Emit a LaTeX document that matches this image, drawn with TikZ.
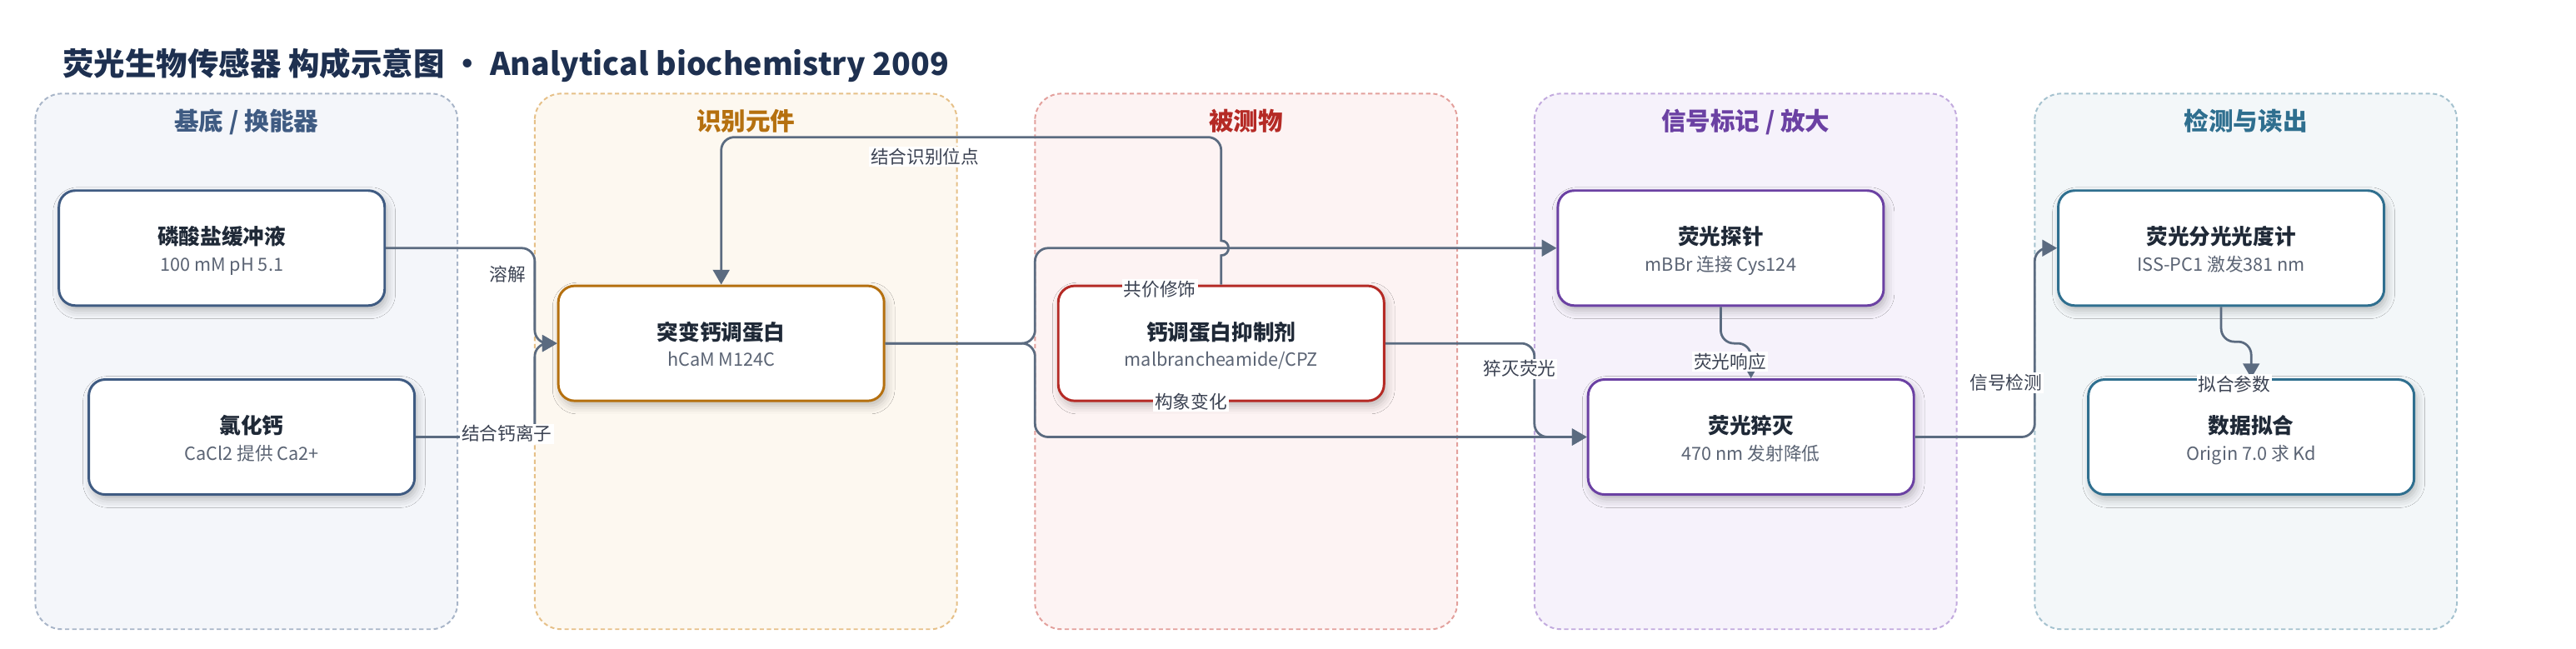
\documentclass[tikz,border=0pt]{standalone}
\usepackage{fontspec}
\setmainfont{Noto Sans CJK SC}
\usetikzlibrary{arrows.meta,shadows.blur}

\definecolor{titlec}{HTML}{1E3050}
\definecolor{edgec}{HTML}{5B6B80}
\definecolor{labc}{HTML}{3B4252}
\definecolor{ttlc}{HTML}{1F2937}
\definecolor{subc}{HTML}{5B6474}
% lanes
\definecolor{laAf}{HTML}{F4F6FA}\definecolor{laAd}{HTML}{A8B5C8}
\definecolor{laBf}{HTML}{FDF8F0}\definecolor{laBd}{HTML}{E6C088}
\definecolor{laCf}{HTML}{FDF3F3}\definecolor{laCd}{HTML}{E3A09C}
\definecolor{laDf}{HTML}{F6F2FB}\definecolor{laDd}{HTML}{C2AADE}
\definecolor{laEf}{HTML}{F3F7F9}\definecolor{laEd}{HTML}{A5C2CF}
% accents
\definecolor{cnavy}{HTML}{3F5B82}
\definecolor{corange}{HTML}{B5700F}
\definecolor{cred}{HTML}{B52A25}
\definecolor{cpurple}{HTML}{6B41A3}
\definecolor{cteal}{HTML}{2F6F8F}

\tikzset{
  lanebox/.style 2 args={fill=#1, draw=#2, line width=1pt, dash pattern=on 2.6pt off 1.8pt, rounded corners=16pt},
  lanetitle/.style={anchor=base, inner sep=0pt, font=\fontsize{15}{17}\selectfont\bfseries, text=#1},
  box/.style={draw=#1, line width=1.5pt, rounded corners=10pt, fill=white,
    minimum width=198.3pt, minimum height=70pt, inner sep=0pt,
    blur shadow={shadow xshift=1.5pt, shadow yshift=-3pt, shadow blur radius=5pt, shadow opacity=25}},
  ttl/.style={anchor=base, inner sep=0pt, text=ttlc, font=\fontsize{13}{15}\selectfont\bfseries},
  sub/.style={anchor=base, inner sep=0pt, text=subc, font=\fontsize{11}{13}\selectfont},
  edge/.style={draw=edgec, line width=1.4pt, rounded corners=8pt, -{Triangle[length=9pt,width=10pt]}},
  elab/.style={fill=white, inner sep=1pt, text=labc, font=\fontsize{11}{13}\selectfont},
}

\newcommand\mybox[6]{%
  \node[box=#4] (#1) at (#2,#3) {};
  \node[ttl] (#1t) at (#2,#3-2) {#5};
  \node[sub] (#1s) at (#2,#3+14) {#6};
}

\begin{document}
\begin{tikzpicture}[x=1pt,y=-1pt]
\useasboundingbox[fill=white] (0,0) rectangle (1568,395);

% title
\node[anchor=base west, inner sep=0pt, text=titlec, font=\fontsize{19}{22}\selectfont\bfseries] (title) at (38,46) {荧光生物传感器 构成示意图 · Analytical biochemistry 2009};

% lanes
\path[lanebox={laAf}{laAd}] (21.5,57) rectangle (278.5,383);
\path[lanebox={laBf}{laBd}] (325.5,57) rectangle (582.5,383);
\path[lanebox={laCf}{laCd}] (630,57) rectangle (887,383);
\path[lanebox={laDf}{laDd}] (934,57) rectangle (1191,383);
\path[lanebox={laEf}{laEd}] (1238.5,57) rectangle (1495.5,383);

\node[lanetitle=cnavy] (lt1) at (150,79.5) {基底 / 换能器};
\node[lanetitle=corange] (lt2) at (454,79.5) {识别元件};
\node[lanetitle=cred] (lt3) at (758.5,79.5) {被测物};
\node[lanetitle=cpurple] (lt4) at (1062.5,79.5) {信号标记 / 放大};
\node[lanetitle=cteal] (lt5) at (1367,79.5) {检测与读出};

% nodes
\mybox{n1}{135}{151}{cnavy}{磷酸盐缓冲液}{100 mM pH 5.1}
\mybox{n2}{153.2}{266}{cnavy}{氯化钙}{CaCl2 提供 Ca2+}
\mybox{n3}{439}{209}{corange}{突变钙调蛋白}{hCaM M124C}
\mybox{n4}{743.3}{209}{cred}{钙调蛋白抑制剂}{malbrancheamide/CPZ}
\mybox{n5}{1047.4}{151}{cpurple}{荧光探针}{mBBr 连接 Cys124}
\mybox{n6}{1065.8}{266}{cpurple}{荧光猝灭}{470 nm 发射降低}
\mybox{n7}{1352}{151}{cteal}{荧光分光光度计}{ISS-PC1 激发381 nm}
\mybox{n8}{1370.3}{266}{cteal}{数据拟合}{Origin 7.0 求 Kd}

% edges
\draw[edge] (n1.east) -- (325.5,151) -- (325.5,209) -- (n3.west);
\draw[edge] (n2.east) -- (325.5,266) -- (325.5,209) -- (n3.west);
\draw[edge] (n4.north) [sharp corners] -- (743.3,155.5)
   .. controls (749.3,155.5) and (749.3,146.5) .. (743.3,146.5)
   -- (743.3,120) [rounded corners=8pt] -- (743.3,83.5) -- (439,83.5) -- (n3.north);
\draw[edge] (n3.east) -- (630,209) -- (630,151) -- (n5.west);
\draw[edge] (n3.east) -- (630,209) -- (630,266) -- (n6.west);
\draw[edge] (n4.east) -- (934,209) -- (934,266) -- (n6.west);
\draw[edge] (n5.south) -- (1047.4,209) -- (1065.8,209) -- (n6.north);
\draw[edge] (n6.east) -- (1238.5,266) -- (1238.5,151) -- (n7.west);
\draw[edge] (n7.south) -- (1352,208) -- (1370.3,208) -- (n8.north);

% edge labels
\node[elab] (l1) at (309,167) {溶解};
\node[elab] (l2) at (308.5,264) {结合钙离子};
\node[elab] (l3) at (563,95.5) {结合识别位点};
\node[elab] (l4) at (706,176) {共价修饰};
\node[elab] (l5) at (725,244.5) {构象变化};
\node[elab] (l6) at (925,224.5) {猝灭荧光};
\node[elab] (l7) at (1053,220) {荧光响应};
\node[elab] (l8) at (1221,233) {信号检测};
\node[elab] (l9) at (1360,234) {拟合参数};
\end{tikzpicture}
\end{document}
